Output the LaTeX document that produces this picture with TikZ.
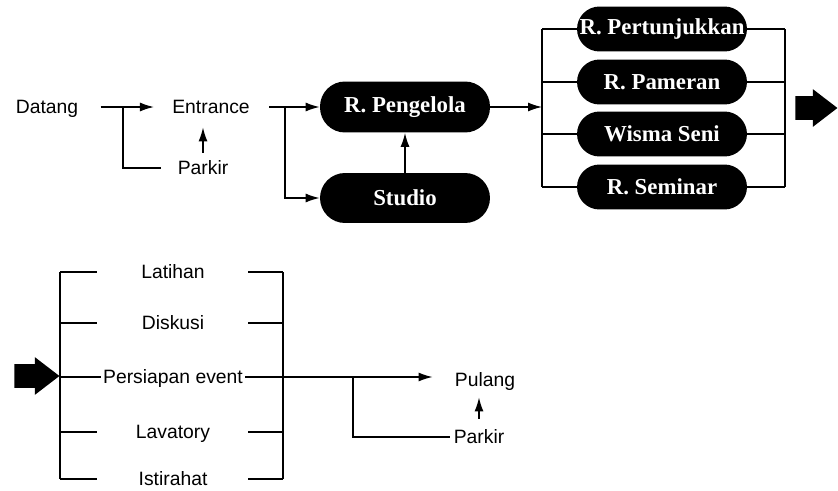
\documentclass[tikz,border=0pt]{standalone}
\usepackage{fontspec}
\setmainfont{Liberation Serif}
\setsansfont{Liberation Sans}
\usetikzlibrary{arrows.meta, shapes.arrows}

\begin{document}
\begin{tikzpicture}[x=0.02cm, y=-0.02cm,
    txt/.style={font=\sffamily\fontsize{11}{13}\selectfont, inner sep=0pt,
      text height=1.5ex, text depth=0pt},
    room/.style={rectangle, rounded corners=0.45cm, fill=black, text=white,
      inner xsep=0pt, minimum width=3.4cm, minimum height=0.9cm,
      font=\bfseries\fontsize{13}{15}\selectfont},
    ln/.style={line width=0.8pt},
    arr/.style={ln, -{Latex[length=2.8mm,width=1.8mm]}},
    fat/.style={single arrow, fill=black, inner xsep=0pt, inner ysep=0.23cm,
      minimum height=0.84cm, single arrow head extend=0.14cm,
      single arrow tip angle=75, anchor=tip}]
      \useasboundingbox (0,0) rectangle (838,490);

      % kedatangan
      \node[txt] (datang) at (47,107) {Datang};
      \node[txt] (entrance) at (211,107) {Entrance};
      \node[txt] (parkirA) at (203,168) {Parkir};
      \node[room, minimum height=1.02cm, rounded corners=0.5cm] (pengelola) at (405,107) {R. Pengelola};
      \node[room, minimum height=1.0cm, rounded corners=0.5cm] (studio) at (405,198) {Studio};
      \foreach \n/\y/\t in {pertunjukkan/29/R. Pertunjukkan, pameran/82/R. Pameran,
        wisma/134/Wisma Seni, seminar/187/R. Seminar}{
        \node[room] (\n) at (662,\y) {\t};
      }
      \node[fat] (lanjut) at (838,108) {};

      \coordinate (j1) at (123,107);
      \coordinate (j2) at (285,107);
      \coordinate (lb) at (542,107);
      \coordinate (rb) at (785,107);
      \draw[arr, shorten <=0.44cm, shorten >=0.36cm] (datang.east) -- (entrance.west);
      \draw[ln, shorten >=0.32cm] (j1) |- (parkirA.west);
      \draw[arr, shorten <=0.18cm, shorten >=0.28cm] (parkirA.north) -- (parkirA.north |- entrance.south);
      \draw[arr, shorten <=0.38cm] (entrance.east) -- (pengelola.west);
      \draw[arr] (j2) |- (studio.west);
      \draw[arr] (studio) -- (pengelola);
      \draw[arr] (pengelola) -- (lb);
      \draw[ln] (lb |- pertunjukkan.west) -- (lb |- seminar.west);
      \draw[ln] (rb |- pertunjukkan.east) -- (rb |- seminar.east);
      \foreach \n in {pertunjukkan, pameran, wisma, seminar}{
        \draw[ln] (\n.west) -- (\n.west -| lb) (\n.east) -- (\n.east -| rb);
      }

      % kegiatan dan pulang
      \node[fat, minimum height=0.9cm] (kembali) at (60,376) {};
      \foreach \n/\y/\t in {latihan/272/Latihan, diskusi/323/Diskusi,
        persiapan/377/Persiapan event, lavatory/432/Lavatory, istirahat/479/Istirahat}{
        \node[txt] (\n) at (173,\y) {\t};
      }
      \node[txt] (pulang) at (485,380) {Pulang};
      \node[txt] (parkirB) at (479,437) {Parkir};

      \coordinate (bl) at (60,377);
      \coordinate (br) at (283,377);
      \coordinate (j3) at (353,377);
      \draw[ln] (bl |- latihan) -- (bl |- istirahat);
      \draw[ln] (br |- latihan) -- (br |- istirahat);
      \foreach \n in {latihan, diskusi, lavatory, istirahat}{
        \draw[ln] (bl |- \n) -- ++(37,0) (br |- \n) -- ++(-35,0);
      }
      \draw[ln, shorten >=0.04cm] (bl) -- (persiapan.west);
      \draw[arr, shorten <=0.04cm, shorten >=0.44cm] (persiapan.east) -- (persiapan.east -| pulang.west);
      \draw[ln, shorten >=0.06cm] (j3) |- (parkirB.west);
      \draw[arr, shorten <=0.24cm, shorten >=0.22cm] (parkirB.north) -- (parkirB.north |- pulang.south);
    \end{tikzpicture}
\end{document}
